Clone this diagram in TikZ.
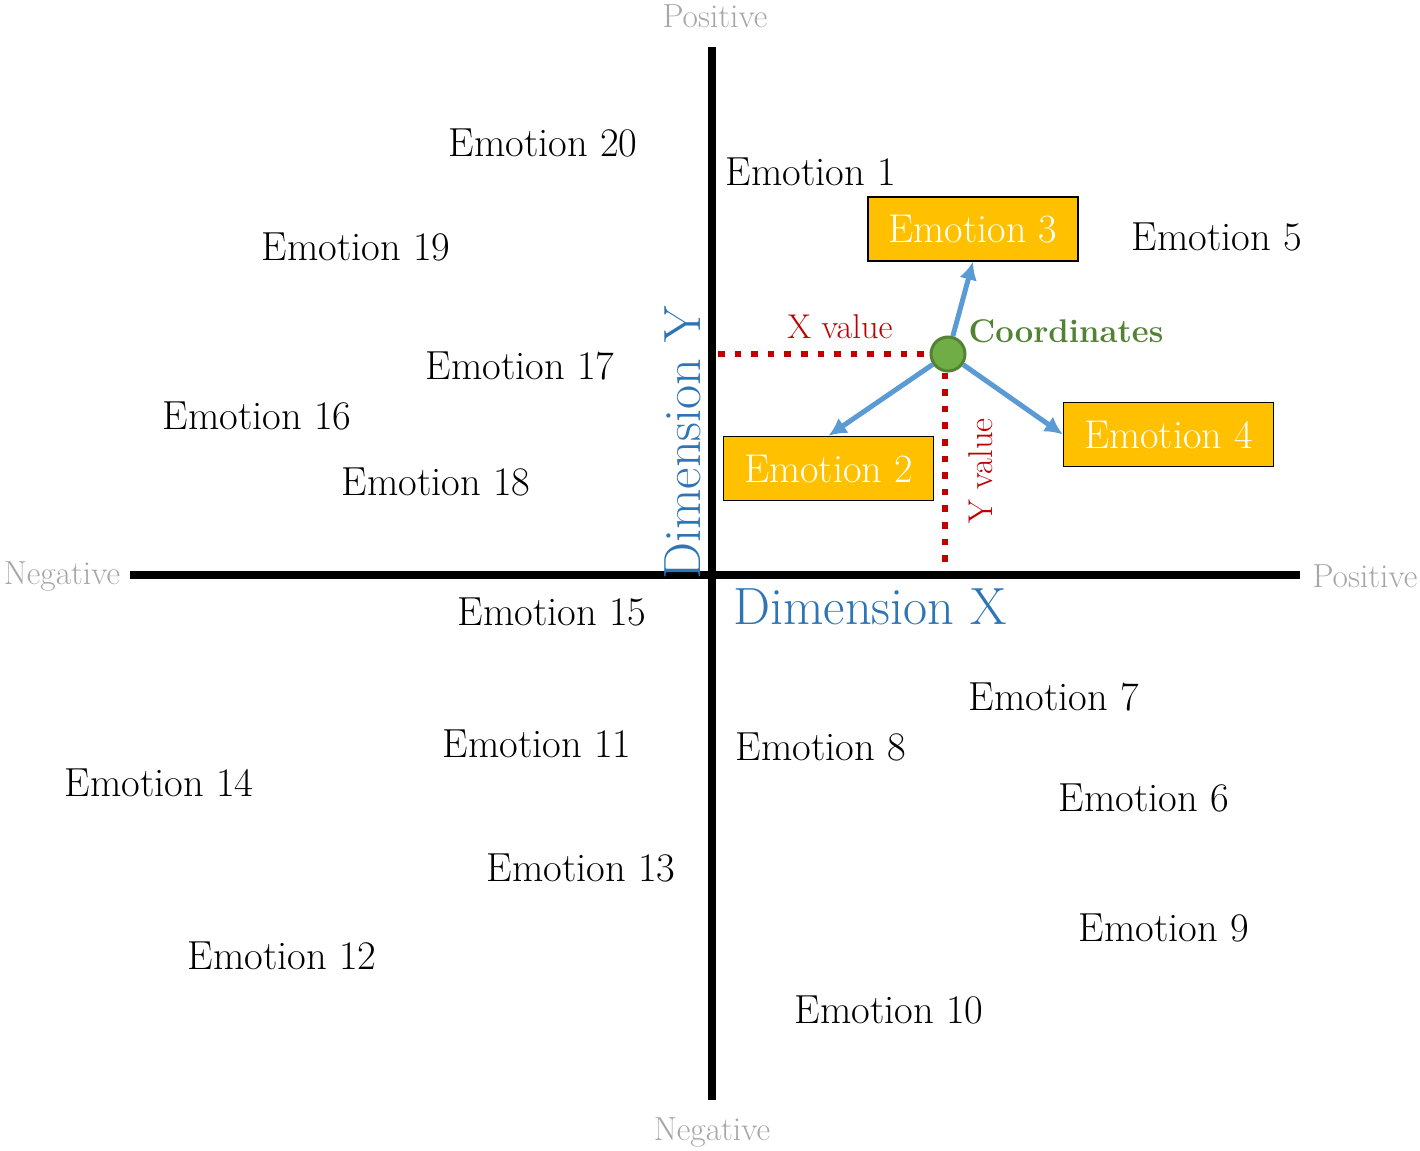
\documentclass[tikz,border=0pt]{standalone}
\usepackage{fontspec}
\usetikzlibrary{arrows.meta}
\definecolor{axgray}{HTML}{A6A6A6}
\definecolor{dimblue}{HTML}{2E75B6}
\definecolor{arrblue}{HTML}{5B9BD5}
\definecolor{valred}{HTML}{C00000}
\definecolor{boxgold}{HTML}{FFC000}
\definecolor{dotgreen}{HTML}{70AD47}
\definecolor{dotborder}{HTML}{548235}
\tikzset{
  emo/.style={font=\fontsize{20.3}{24}\selectfont, inner sep=0pt},
  emobox/.style={font=\fontsize{20.1}{24}\selectfont, text=white, fill=boxgold, draw=black, line width=0.7pt, minimum width=105pt, minimum height=32pt, inner sep=0pt},
  axlabel/.style={font=\fontsize{16.7}{20}\selectfont, text=axgray, inner sep=0pt},
  axisline/.style={line width=4pt, black},
  valline/.style={valred, line width=3pt, dash pattern=on 3.3pt off 5pt},
  valtext/.style={font=\fontsize{17.2}{20}\selectfont, text=valred, inner sep=0pt},
  dimtext/.style={font=\fontsize{26.2}{31}\selectfont, text=dimblue, inner sep=0pt},
  blueline/.style={arrblue, line width=2.5pt, -{Latex[length=9pt,width=9pt]}}
}
\begin{document}
\begin{tikzpicture}[x=0.5pt,y=-0.5pt]
\useasboundingbox (0,0) rectangle (1420,1151);
% axis labels
\node[axlabel] (ptop) at (715,16) {Positive};
\node[axlabel] (nbot) at (712,1132) {Negative};
\node[axlabel] (nleft) at (62,576) {Negative};
\node[axlabel] (pright) at (1365,576) {Positive};
% axes
\coordinate (vt) at (712,47);
\coordinate (vb) at (712,1100);
\coordinate (hl) at (130,575);
\coordinate (hr) at (1300,575);
\draw[axisline] (vt) -- (vb);
\draw[axisline] (hl) -- (hr);
% dimension labels
\node[dimtext, rotate=90] (dimy) at (683,443) {Dimension Y};
\node[dimtext] (dimx) at (870,607) {Dimension X};
% coordinate dot and value lines
\node[circle, fill=dotgreen, draw=dotborder, line width=1.5pt, minimum size=17pt, inner sep=0pt] (dot) at (948,354) {};
\coordinate (xs) at (718,354);
\coordinate (ye) at (945,568);
\draw[valline] (xs) -- (dot.west);
\draw[valline] (dot.south -| ye) -- (ye);
\node[valtext] (xval) at (840,327) {X value};
\node[valtext, rotate=90] (yval) at (981,471) {Y value};
\node[font=\fontsize{16.4}{19}\selectfont\bfseries, text=dotborder, inner sep=0pt] (coord) at (1066,331) {Coordinates};
% boxes
\node[emobox] (e3) at (973,229) {Emotion 3};
\node[emobox] (e2) at (828.5,468.5) {Emotion 2};
\node[emobox] (e4) at (1168.5,434.5) {Emotion 4};
\draw[blueline] (dot) -- (e3.south);
\draw[blueline] (dot) -- (e2.north);
\draw[blueline] (dot) -- (e4.west);
% emotions
\node[emo] (e1) at (811,172) {Emotion 1};
\node[emo] (e5) at (1217,237) {Emotion 5};
\node[emo] (e6) at (1144,798) {Emotion 6};
\node[emo] (e7) at (1054,697) {Emotion 7};
\node[emo] (e8) at (821,747) {Emotion 8};
\node[emo] (e9) at (1164,928) {Emotion 9};
\node[emo] (e10) at (889,1010) {Emotion 10};
\node[emo] (e11) at (537,744) {Emotion 11};
\node[emo] (e12) at (282,956) {Emotion 12};
\node[emo] (e13) at (581,868) {Emotion 13};
\node[emo] (e14) at (159,783) {Emotion 14};
\node[emo] (e15) at (552,612) {Emotion 15};
\node[emo] (e16) at (257,416) {Emotion 16};
\node[emo] (e17) at (520,366) {Emotion 17};
\node[emo] (e18) at (436,482) {Emotion 18};
\node[emo] (e19) at (356,247) {Emotion 19};
\node[emo] (e20) at (543,143) {Emotion 20};
\end{tikzpicture}
\end{document}
